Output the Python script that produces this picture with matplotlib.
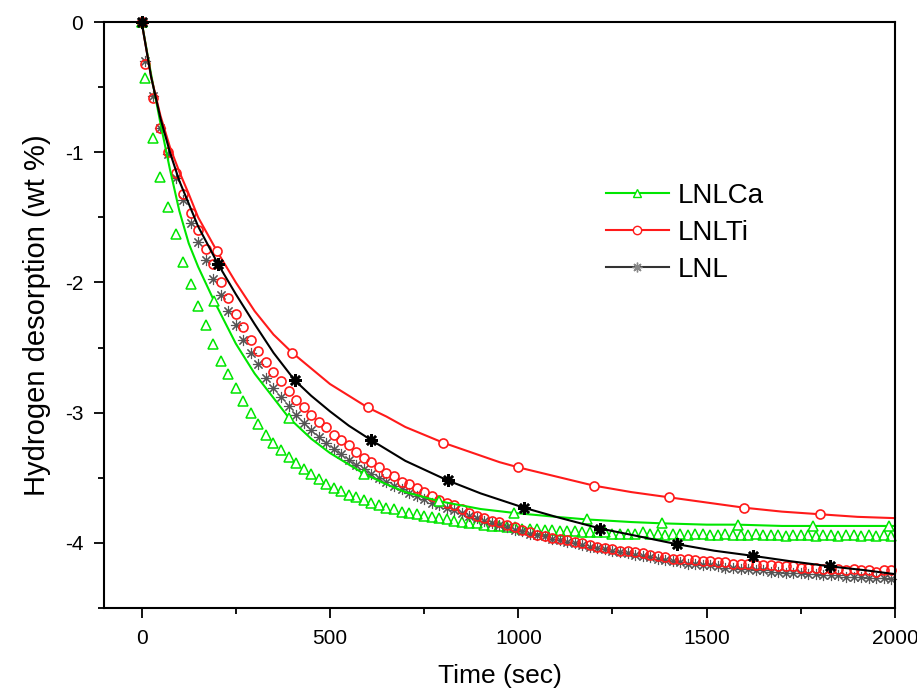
import matplotlib
matplotlib.use("Agg")
import matplotlib.pyplot as plt
from matplotlib.lines import Line2D
from matplotlib.ticker import MultipleLocator

plt.rcParams['font.family'] = ['Liberation Sans', 'DejaVu Sans']
plt.rcParams['axes.unicode_minus'] = False

# measured points (every ~20 s)
t_data = [0, 10, 30, 50, 70, 90, 110, 130, 150, 170, 190, 210, 230, 250, 270, 290,
          310, 330, 350, 370, 390, 410, 430, 450, 470, 490, 510, 530, 550, 570, 590,
          610, 630, 650, 670, 690, 710, 730, 750, 770, 790, 810, 830, 850, 870, 890,
          910, 930, 950, 970, 990, 1010, 1030, 1050, 1070, 1090, 1110, 1130, 1150,
          1170, 1190, 1210, 1230, 1250, 1270, 1290, 1310, 1330, 1350, 1370, 1390,
          1410, 1430, 1450, 1470, 1490, 1510, 1530, 1550, 1570, 1590, 1610, 1630,
          1650, 1670, 1690, 1710, 1730, 1750, 1770, 1790, 1810, 1830, 1850, 1870,
          1890, 1910, 1930, 1950, 1970, 1990]

ca_data = [0, -0.43, -0.89, -1.19, -1.42, -1.63, -1.84, -2.01, -2.18, -2.33, -2.47,
           -2.60, -2.70, -2.81, -2.91, -3.00, -3.09, -3.17, -3.23, -3.29, -3.34, -3.39,
           -3.43, -3.47, -3.51, -3.55, -3.58, -3.60, -3.63, -3.65, -3.67, -3.69, -3.71,
           -3.73, -3.74, -3.76, -3.77, -3.78, -3.79, -3.80, -3.81, -3.82, -3.83, -3.84,
           -3.85, -3.85, -3.86, -3.87, -3.87, -3.88, -3.88, -3.89, -3.89, -3.89, -3.90,
           -3.90, -3.91, -3.91, -3.91, -3.92, -3.92, -3.92, -3.92, -3.93, -3.93, -3.93,
           -3.93, -3.92, -3.93, -3.93, -3.94, -3.93, -3.93, -3.94, -3.93, -3.93, -3.94,
           -3.94, -3.93, -3.94, -3.94, -3.94, -3.93, -3.94, -3.94, -3.94, -3.95, -3.94,
           -3.94, -3.94, -3.95, -3.94, -3.94, -3.95, -3.94, -3.94, -3.95, -3.94, -3.95,
           -3.94, -3.95]

ti_data = [0, -0.32, -0.58, -0.81, -1.00, -1.16, -1.32, -1.47, -1.60, -1.74, -1.86,
           -2.00, -2.12, -2.24, -2.34, -2.44, -2.53, -2.61, -2.69, -2.76, -2.83, -2.90,
           -2.96, -3.02, -3.07, -3.11, -3.17, -3.21, -3.25, -3.30, -3.35, -3.38, -3.42,
           -3.46, -3.49, -3.53, -3.55, -3.58, -3.61, -3.64, -3.67, -3.69, -3.71, -3.74,
           -3.77, -3.79, -3.81, -3.83, -3.84, -3.86, -3.88, -3.90, -3.92, -3.94, -3.95,
           -3.96, -3.97, -3.98, -3.99, -4.00, -4.02, -4.03, -4.04, -4.05, -4.06, -4.06,
           -4.07, -4.08, -4.09, -4.10, -4.11, -4.12, -4.12, -4.12, -4.13, -4.14, -4.14,
           -4.15, -4.15, -4.16, -4.16, -4.16, -4.17, -4.17, -4.17, -4.18, -4.18, -4.18,
           -4.19, -4.19, -4.19, -4.20, -4.20, -4.20, -4.21, -4.20, -4.21, -4.21, -4.22,
           -4.21, -4.21]

lnl_data = [0, -0.30, -0.57, -0.81, -1.01, -1.20, -1.37, -1.54, -1.69, -1.83, -1.97,
            -2.10, -2.22, -2.33, -2.44, -2.54, -2.63, -2.73, -2.81, -2.88, -2.95, -3.02,
            -3.08, -3.13, -3.19, -3.23, -3.28, -3.32, -3.36, -3.40, -3.43, -3.47, -3.50,
            -3.53, -3.56, -3.59, -3.62, -3.64, -3.66, -3.69, -3.71, -3.73, -3.75, -3.77,
            -3.79, -3.81, -3.83, -3.85, -3.86, -3.88, -3.90, -3.91, -3.93, -3.94, -3.95,
            -3.97, -3.98, -3.99, -4.00, -4.02, -4.03, -4.04, -4.05, -4.06, -4.07, -4.08,
            -4.09, -4.10, -4.11, -4.12, -4.13, -4.14, -4.15, -4.16, -4.16, -4.17, -4.17,
            -4.18, -4.19, -4.19, -4.20, -4.20, -4.21, -4.21, -4.22, -4.22, -4.23, -4.23,
            -4.23, -4.24, -4.24, -4.25, -4.25, -4.25, -4.26, -4.26, -4.26, -4.27, -4.27,
            -4.27, -4.28]

# fitted curves
ca_fit_t = [0, 25, 50, 75, 100, 125, 150, 192, 250, 300, 391, 450, 500, 591, 650, 700,
            790, 900, 989, 1100, 1182, 1300, 1382, 1500, 1582, 1700, 1781, 1900, 1985, 2000]
ca_fit = [0, -0.40, -0.78, -1.13, -1.45, -1.70, -1.88, -2.14, -2.47, -2.70, -3.04, -3.20,
          -3.31, -3.47, -3.55, -3.61, -3.68, -3.74, -3.77, -3.80, -3.82, -3.84, -3.85,
          -3.86, -3.86, -3.87, -3.87, -3.87, -3.87, -3.87]
ca_marks = [0, 7, 10, 13, 16, 18, 20, 22, 24, 26, 28]

ti_fit_t = [0, 25, 50, 75, 100, 125, 150, 175, 200, 250, 300, 350, 400, 450, 500, 550,
            600, 650, 700, 750, 800, 850, 900, 950, 1000, 1100, 1200, 1300, 1400, 1500,
            1600, 1700, 1800, 1900, 2000]
ti_fit = [0, -0.42, -0.72, -0.96, -1.15, -1.32, -1.50, -1.63, -1.76, -2.00, -2.22, -2.40,
          -2.54, -2.66, -2.78, -2.87, -2.96, -3.03, -3.11, -3.17, -3.23, -3.28, -3.33,
          -3.38, -3.42, -3.49, -3.56, -3.61, -3.65, -3.69, -3.73, -3.76, -3.78, -3.80, -3.81]
ti_marks = [0, 8, 12, 16, 20, 24, 26, 28, 30, 32]

lnl_fit_t = [0, 25, 50, 75, 100, 150, 203, 250, 300, 350, 406, 450, 500, 550, 609, 700,
             812, 900, 1015, 1100, 1218, 1320, 1421, 1520, 1624, 1720, 1827, 1920, 2000]
lnl_fit = [0, -0.42, -0.74, -1.00, -1.22, -1.57, -1.86, -2.09, -2.32, -2.54, -2.75, -2.87,
           -2.99, -3.10, -3.21, -3.37, -3.52, -3.62, -3.73, -3.80, -3.89, -3.95, -4.01,
           -4.06, -4.10, -4.14, -4.18, -4.21, -4.24]
lnl_marks = [0, 6, 10, 14, 16, 18, 20, 22, 24, 26]

GREEN = '#00e600'
RED = '#ff1a1a'
STAR = (8, 2, 0)

fig = plt.figure(figsize=(9.17, 6.95), dpi=100)
ax = fig.add_axes([0.1134, 0.1252, 0.8626, 0.8431])

# raw data, hollow markers
ax.plot(t_data, ca_data, ls='none', marker='^', ms=7, mfc='none', mec=GREEN, mew=1.1, clip_on=False)
ax.plot(t_data, lnl_data, ls='none', marker=STAR, ms=8, mec='#555555', mew=0.8, clip_on=False)
ax.plot(t_data, ti_data, ls='none', marker='o', ms=6.5, mfc='none', mec=RED, mew=1.2, clip_on=False)

# fitted lines
ax.plot(ca_fit_t, ca_fit, color=GREEN, lw=1.5, marker='^', ms=7, mfc='white', mec=GREEN,
        mew=1.1, markevery=ca_marks, clip_on=False)
ax.plot(ti_fit_t, ti_fit, color=RED, lw=1.5, marker='o', ms=6.5, mfc='white', mec=RED,
        mew=1.2, markevery=ti_marks, clip_on=False)
ax.plot(lnl_fit_t, lnl_fit, color='black', lw=1.5, marker=STAR, ms=9, mec='black',
        mew=1.8, markevery=lnl_marks, clip_on=False)

ax.set_xlim(-100, 2000)
ax.set_ylim(-4.5, 0)
ax.xaxis.set_major_locator(MultipleLocator(500))
ax.xaxis.set_minor_locator(MultipleLocator(250))
ax.yaxis.set_major_locator(MultipleLocator(1))
ax.yaxis.set_minor_locator(MultipleLocator(0.5))
ax.tick_params(which='both', direction='out', width=1.3, labelsize=15, top=False, right=False)
ax.tick_params(which='major', length=7, pad=8)
ax.tick_params(which='minor', length=4)
for s in ax.spines.values():
    s.set_linewidth(1.5)

ax.set_xlabel('Time (sec)', fontsize=19, labelpad=12)
ax.set_ylabel('Hydrogen desorption (wt %)', fontsize=21, labelpad=10)

handles = [
    Line2D([], [], color=GREEN, lw=1.5, marker='^', ms=6, mfc='white', mec=GREEN),
    Line2D([], [], color=RED, lw=1.5, marker='o', ms=6, mfc='white', mec=RED),
    Line2D([], [], color='#333333', lw=1.5, marker=STAR, ms=7, mec='#888888', mew=1),
]
ax.legend(handles, ['LNLCa', 'LNLTi', 'LNL'], loc='upper left', bbox_to_anchor=(0.62, 0.745),
          frameon=False, fontsize=20, handlelength=2.3, handletextpad=0.3, labelspacing=0.4,
          borderaxespad=0)

fig.savefig('out.png', dpi=100)
